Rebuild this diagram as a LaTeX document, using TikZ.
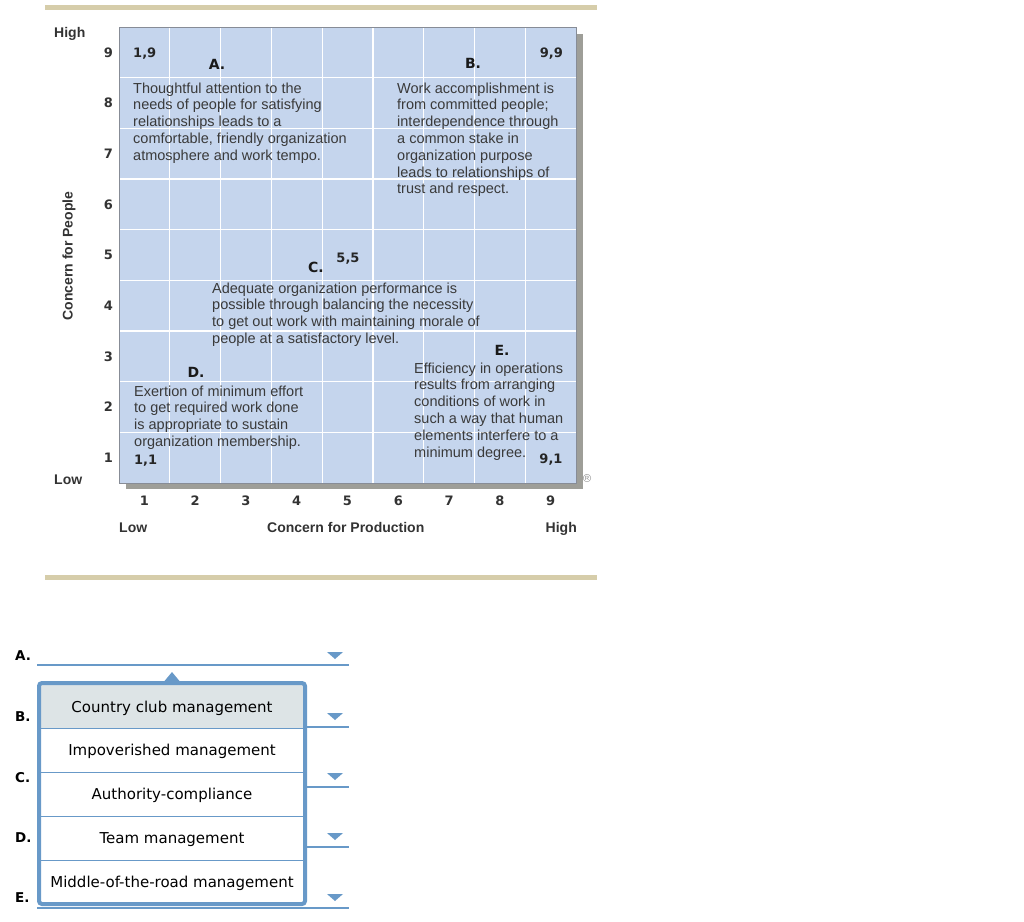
\documentclass[tikz,border=0pt]{standalone}
\usepackage{fontspec}
\setmainfont{Liberation Sans}
\newfontfamily\dejavu{DejaVu Sans}
\definecolor{gridfill}{RGB}{197,213,237}
\definecolor{gridborder}{RGB}{135,140,150}
\definecolor{shadowgray}{RGB}{158,158,152}
\definecolor{tanline}{RGB}{214,205,170}
\definecolor{ddblue}{RGB}{104,153,200}
\definecolor{hilite}{RGB}{221,228,230}
\definecolor{bodytext}{RGB}{58,58,58}
\tikzset{
  para/.style={anchor=base west, align=left, inner sep=0pt, font=\fontsize{14.5}{16.8}\selectfont, text=bodytext},
  pair/.style={inner sep=0pt, font=\dejavu\fontsize{13}{15}\selectfont\bfseries, text=black!85},
  axnum/.style={inner sep=0pt, font=\dejavu\fontsize{13}{15}\selectfont\bfseries, text=black!80},
  axword/.style={inner sep=0pt, font=\fontsize{14}{16}\selectfont\bfseries, text=black!80},
  quad/.style={inner sep=0pt, anchor=base, font=\dejavu\fontsize{14}{16}\selectfont\bfseries, text=black!90},
  optlabel/.style={inner sep=0pt, anchor=base west, font=\dejavu\fontsize{13.5}{16}\selectfont\bfseries},
  opttext/.style={inner sep=0pt, anchor=base, font=\dejavu\fontsize{15}{17}\selectfont},
  ddline/.style={draw=ddblue, line width=1.6pt},
  ddtri/.style={fill=ddblue},
}
\begin{document}
\begin{tikzpicture}[x=1pt,y=-1pt]
\useasboundingbox (0,0) rectangle (1024,921);
% tan rules
\fill[tanline] (45,5) rectangle (597,9.5);
\fill[tanline] (45,575) rectangle (597,579.5);
% grid with shadow
\fill[shadowgray] (126,34) rectangle (583,489);
\fill[gridfill] (119,27) rectangle (576,483);
\foreach \k in {1,...,8} {
  \draw[white, line width=1.2pt] ({119+\k*50.78},27) -- ({119+\k*50.78},483);
  \draw[white, line width=1.2pt] (119,{27+\k*50.67}) -- (576,{27+\k*50.67});
}
\draw[gridborder, line width=1pt] (119,27) rectangle (576,483);
% axis numbers
\foreach \k in {1,...,9} {
  \node[axnum, anchor=base east] (y\k) at (113,{27+(9.5-\k)*50.67+4.7}) {\k};
  \node[axnum, anchor=base] (x\k) at ({119+(\k-0.5)*50.78},505) {\k};
}
\node[axword, anchor=base west] (yhigh) at (54,37) {High};
\node[axword, anchor=base west] (ylow) at (54,484) {Low};
\node[axword, rotate=90] (ylabel) at (69,256) {Concern for People};
\node[axword, anchor=base west] (xlow) at (119,532) {Low};
\node[axword, anchor=base west] (xlabel) at (267,532) {Concern for Production};
\node[axword, anchor=base east] (xhigh) at (577,532) {High};
\node[draw=black!45, text=black!50, circle, inner sep=0.6pt, font=\fontsize{6}{6}\selectfont] (reg) at (587,478) {R};
% quadrant texts (base anchor = baseline of last line)
\node[pair, anchor=base west] (p19) at (133,57) {1,9};
\node[quad] (qa) at (217,69) {A.};
\node[para] (ta) at (133,160.2) {Thoughtful attention to the\\needs of people for satisfying\\relationships leads to a\\comfortable, friendly organization\\atmosphere and work tempo.};
\node[pair, anchor=base east] (p99) at (563,57) {9,9};
\node[quad] (qb) at (473,68) {B.};
\node[para] (tb) at (397,193.8) {Work accomplishment is\\from committed people;\\interdependence through\\a common stake in\\organization purpose\\leads to relationships of\\trust and respect.};
\node[pair, anchor=base] (p55) at (348,262) {5,5};
\node[quad] (qc) at (316,272) {C.};
\node[para] (tc) at (212,343.4) {Adequate organization performance is\\possible through balancing the necessity\\to get out work with maintaining morale of\\people at a satisfactory level.};
\node[quad] (qd) at (196,377) {D.};
\node[para] (td) at (134,446.4) {Exertion of minimum effort\\to get required work done\\is appropriate to sustain\\organization membership.};
\node[pair, anchor=base west] (p11) at (134,464) {1,1};
\node[quad] (qe) at (502,355) {E.};
\node[para] (te) at (414,457) {Efficiency in operations\\results from arranging\\conditions of work in\\such a way that human\\elements interfere to a\\minimum degree.};
\node[pair, anchor=base] (p91) at (551,463) {9,1};
% answer rows
\node[optlabel] (la) at (15,660) {A.};
\node[optlabel] (lb) at (15,721) {B.};
\node[optlabel] (lc) at (15,782) {C.};
\node[optlabel] (ld) at (15,842) {D.};
\node[optlabel] (le) at (15,902) {E.};
\draw[ddline] (37,665) -- (349,665);
\draw[ddline] (307,727) -- (349,727);
\draw[ddline] (307,787) -- (349,787);
\draw[ddline] (307,847) -- (349,847);
\draw[ddline] (37,908) -- (349,908);
\foreach \y in {652,713,773,833,894} {
  \fill[ddtri] (327,\y) -- (343,\y) -- (335,\y+7) -- cycle;
}
% dropdown list
\fill[white] (39,683) rectangle (305,904);
\fill[hilite] (41,685) rectangle (303,728);
\foreach \y in {728,772,816,860} {
  \draw[ddblue, line width=1pt] (41,\y) -- (303,\y);
}
\fill[ddblue] (162,684) -- (172,672) -- (182,684) -- cycle;
\draw[ddblue, line width=4pt, rounded corners=3pt] (39,683) rectangle (305,904);
\node[opttext] (o1) at (172,712) {Country club management};
\node[opttext] (o2) at (172,755) {Impoverished management};
\node[opttext] (o3) at (172,799) {Authority-compliance};
\node[opttext] (o4) at (172,843) {Team management};
\node[opttext] (o5) at (172,887) {Middle-of-the-road management};
\end{tikzpicture}
\end{document}
